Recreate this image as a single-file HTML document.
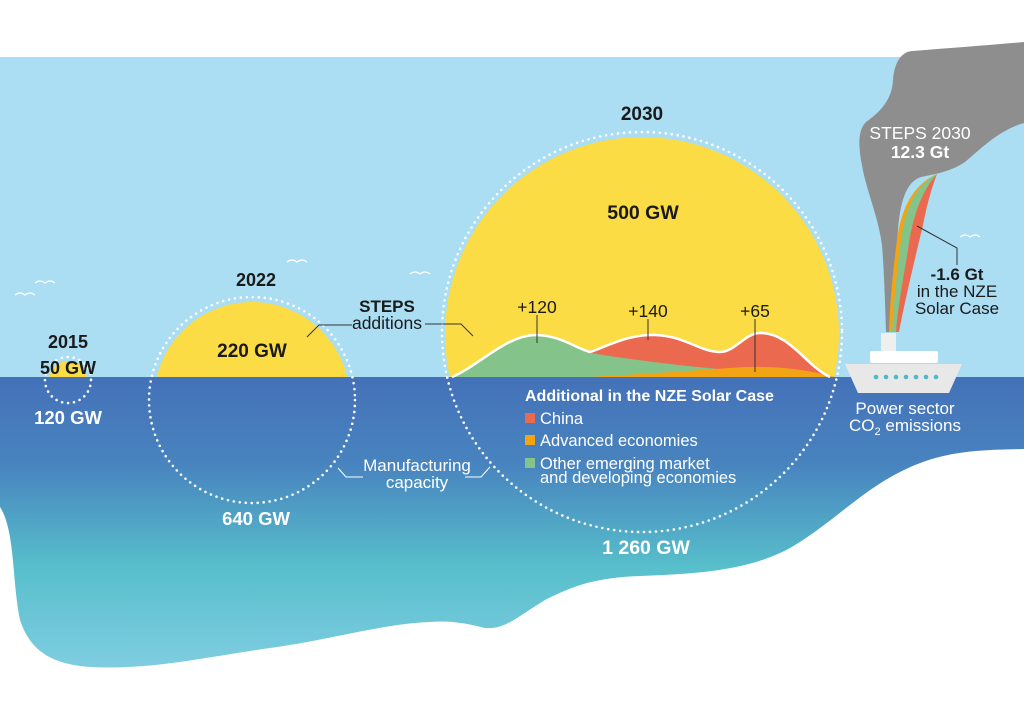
<!DOCTYPE html>
<html><head><meta charset="utf-8"><style>
html,body{margin:0;padding:0;background:#fff}
svg{display:block}
text{font-family:"Liberation Sans",sans-serif}
</style></head><body>
<svg width="1024" height="709" viewBox="0 0 1024 709" xmlns="http://www.w3.org/2000/svg">
<defs>
<linearGradient id="sea" x1="0" y1="377" x2="0" y2="670" gradientUnits="userSpaceOnUse">
<stop offset="0" stop-color="#4471b8"/>
<stop offset="0.3" stop-color="#4884bf"/>
<stop offset="0.65" stop-color="#57bfcb"/>
<stop offset="1" stop-color="#80cde2"/>
</linearGradient>
<clipPath id="sky"><rect x="0" y="0" width="1024" height="377"/></clipPath>
</defs>
<rect x="0" y="57" width="1024" height="320" fill="#abddf3"/>
<path d="M0 377 H1024 V449 C970 450 940 452 900 472 C860 492 830 525 790 548 C750 570 700 574 640 576 C590 578 570 588 545 600 C520 615 505 630 485 628 C470 624 450 620 430 622 C380 624 330 640 270 648 C200 658 150 670 90 667 C50 664 30 650 20 620 C12 580 15 530 0 507 Z" fill="url(#sea)"/>
<g fill="none" stroke="#fff" stroke-width="1.3">
<path d="M15 295 q5 -4 10 0 q5 -4 10 0"/><path d="M35 283 q5 -4 10 0 q5 -4 10 0"/>
<path d="M287 262 q5 -4 10 0 q5 -4 10 0"/><path d="M410 274 q5 -4 10 0 q5 -4 10 0"/>
<path d="M960 237 q5 -4 10 0 q5 -4 10 0"/>
</g>
<g clip-path="url(#sky)">
<circle cx="68" cy="380" r="19" fill="#fbdc44"/>
<circle cx="252" cy="400" r="98" fill="#fbdc44"/>
<circle cx="642" cy="334" r="197" fill="#fbdc44"/>
</g>
<path d="M452 377 C480 365 505 336 535 335 C560 335 575 348 590 352 C690 370 780 372 830 377 Z" fill="#84c38a"/>
<path d="M585 352 C610 345 630 334 655 335 C685 336 700 352 720 352 C735 352 745 333 760 333 C790 333 805 365 830 377 L730 370 C670 365 620 358 585 352 Z" fill="#eb6a4f"/>
<path d="M590 377 C660 373 700 370 745 367 C790 366 815 372 835 377 Z" fill="#f2a415"/>
<path d="M452 377 C480 365 505 336 535 335 C560 335 575 348 590 352 C610 345 630 334 655 335 C685 336 700 352 720 352 C735 352 745 333 760 333 C790 333 805 365 830 377" fill="none" stroke="#fff" stroke-width="2.5"/>
<g fill="none" stroke="#fff" stroke-width="2.6" stroke-linecap="round" stroke-dasharray="0 6">
<circle cx="68" cy="380" r="23"/>
<circle cx="252" cy="400" r="103"/>
<circle cx="642" cy="332" r="200"/>
</g>
<path d="M886 332 C885 300 884 270 882 245 C878 215 866 190 862 165 C858 145 858 130 866 122 C880 112 892 100 893 80 C894 65 900 52 912 51 C950 48 990 45 1024 42 V123 C1000 130 985 145 965 162 C950 172 935 174 921 177 C905 182 900 205 898 230 C895 260 892 300 891 332 Z" fill="#8e8e8e"/>
<path d="M889 332 C890 300 893 270 897 240 C901 210 912 185 937 174 C922 190 915 215 911 245 C906 280 898 310 894 332 Z" fill="#f2a415"/>
<path d="M892 332 C894 300 897 270 901 240 C905 210 915 185 937 174 C926 192 918 218 914 248 C909 282 901 312 896 332 Z" fill="#84c38a"/>
<path d="M896 332 C898 305 904 275 908 250 C912 218 922 190 937 174 C930 192 926 210 923 225 C917 250 905 300 899 332 Z" fill="#eb6a4f"/>
<rect x="881" y="333" width="15" height="18" fill="#efefef"/>
<rect x="870" y="351" width="68" height="12" rx="2" fill="#fff"/>
<path d="M845 364 H962 L949 393 H858 Z" fill="#e8e8e8"/>
<g fill="#4cb8c8"><circle cx="876" cy="377" r="2.3"/><circle cx="886" cy="377" r="2.3"/><circle cx="896" cy="377" r="2.3"/><circle cx="906" cy="377" r="2.3"/><circle cx="916" cy="377" r="2.3"/><circle cx="926" cy="377" r="2.3"/><circle cx="936" cy="377" r="2.3"/></g>
<g fill="none" stroke="#333" stroke-width="1">
<path d="M307 337 L319 325 H352"/><path d="M425 324 H461 L473 336"/>
<path d="M537 315 V343"/><path d="M648 319 V340"/><path d="M755 319 V372"/>
<path d="M917 226 L957 248 V265"/>
</g>
<g fill="none" stroke="#fff" stroke-width="1">
<path d="M338 468 L346 477 H363"/><path d="M465 477 H481 L490 467"/>
</g>
<g fill="#1a1a1a" font-weight="bold" text-anchor="middle" font-size="18">
<text x="68" y="348">2015</text>
<text x="68" y="374">50 GW</text>
<text x="256" y="286">2022</text>
<text x="252" y="357" font-size="19">220 GW</text>
<text x="387" y="312" font-size="17">STEPS</text>
<text x="642" y="120" font-size="19">2030</text>
<text x="643" y="219" font-size="19.5">500 GW</text>
</g>
<g fill="#1a1a1a" text-anchor="middle" font-size="17.5">
<text x="387" y="329">additions</text>
<text x="537" y="313">+120</text>
<text x="648" y="317">+140</text>
<text x="755" y="317">+65</text>
</g>
<g fill="#fff" font-weight="bold" text-anchor="middle" font-size="18.5">
<text x="68" y="424">120 GW</text>
<text x="256" y="525">640 GW</text>
<text x="646" y="554" font-size="19.5">1 260 GW</text>
</g>
<g fill="#fff" text-anchor="middle" font-size="17">
<text x="417" y="471">Manufacturing</text>
<text x="417" y="488">capacity</text>
<text x="905" y="414">Power sector</text>
<text x="905" y="431">CO<tspan font-size="11" dy="4">2</tspan><tspan dy="-4"> emissions</tspan></text>
<text x="920" y="139" font-size="17.5">STEPS 2030</text>
<text x="920" y="158" font-size="17.5" font-weight="bold">12.3 Gt</text>
</g>
<g fill="#1a1a1a" text-anchor="middle" font-size="17">
<text x="957" y="280" font-weight="bold">-1.6 Gt</text>
<text x="957" y="297">in the NZE</text>
<text x="957" y="314">Solar Case</text>
</g>
<g fill="#fff" font-size="16.5">
<text x="525" y="401" font-weight="bold" font-size="16">Additional in the NZE Solar Case</text>
<rect x="525" y="413" width="10" height="10" fill="#eb6a4f"/><text x="540" y="424">China</text>
<rect x="525" y="435" width="10" height="10" fill="#f2a415"/><text x="540" y="446">Advanced economies</text>
<rect x="525" y="458" width="10" height="10" fill="#84c38a"/><text x="540" y="469">Other emerging market</text>
<text x="540" y="483">and developing economies</text>
</g>
</svg>
</body></html>
